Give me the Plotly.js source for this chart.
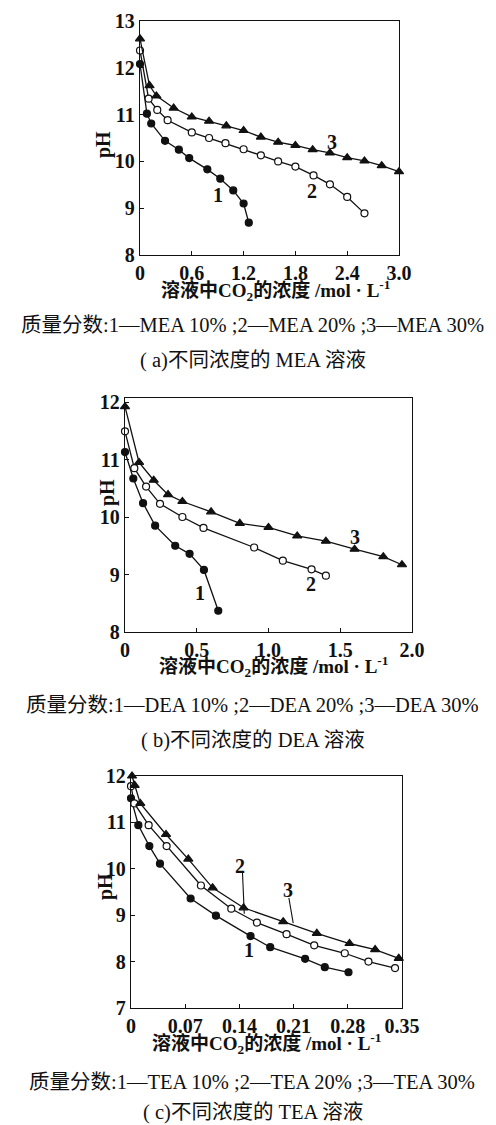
<!DOCTYPE html>
<html>
<head>
<meta charset="utf-8">
<script src="https://cdn.plot.ly/plotly-3.0.1.min.js"></script>
<style>html,body{margin:0;padding:0;background:#fff;}#chart{width:496px;height:1125px;}</style>
</head>
<body>
<div id="chart"></div>
<script>
// ---------- (a) MEA ----------
const mea_x1 = [0, 0.08, 0.13, 0.29, 0.45, 0.57, 0.78, 0.93, 1.08, 1.20, 1.26];
const mea_y1 = [12.08, 11.02, 10.81, 10.44, 10.25, 10.07, 9.83, 9.63, 9.38, 9.10, 8.69];
const mea_x2 = [0, 0.10, 0.20, 0.32, 0.60, 0.80, 0.99, 1.20, 1.40, 1.60, 1.80, 2.01, 2.20, 2.40, 2.60];
const mea_y2 = [12.37, 11.34, 11.10, 10.88, 10.62, 10.50, 10.39, 10.26, 10.13, 10.00, 9.89, 9.70, 9.51, 9.24, 8.89];
const mea_x3 = [0, 0.11, 0.19, 0.39, 0.60, 0.80, 1.00, 1.20, 1.40, 1.60, 1.80, 2.00, 2.20, 2.40, 2.60, 2.80, 3.00];
const mea_y3 = [12.62, 11.62, 11.40, 11.14, 10.95, 10.86, 10.76, 10.66, 10.52, 10.41, 10.34, 10.25, 10.18, 10.08, 10.01, 9.91, 9.78];
const mea_xticks = [0, 0.6, 1.2, 1.8, 2.4, 3.0];
const mea_xticktext = ['0', '0.6', '1.2', '1.8', '2.4', '3.0'];
const mea_yticks = [8, 9, 10, 11, 12, 13];
const mea_labels = {text: ['1', '2', '3'], x: [0.90, 1.99, 2.22], y: [9.28, 9.37, 10.42]};

// ---------- (b) DEA ----------
const dea_x1 = [0, 0.058, 0.126, 0.21, 0.35, 0.45, 0.55, 0.65];
const dea_y1 = [11.13, 10.67, 10.24, 9.85, 9.50, 9.36, 9.08, 8.37];
const dea_x2 = [0, 0.065, 0.147, 0.244, 0.40, 0.547, 0.90, 1.10, 1.30, 1.40];
const dea_y2 = [11.49, 10.85, 10.53, 10.23, 10.00, 9.81, 9.47, 9.24, 9.09, 8.98];
const dea_x3 = [0, 0.098, 0.20, 0.30, 0.40, 0.60, 0.80, 1.00, 1.20, 1.40, 1.60, 1.80, 1.93];
const dea_y3 = [11.92, 10.95, 10.64, 10.39, 10.27, 10.09, 9.89, 9.82, 9.67, 9.58, 9.44, 9.31, 9.17];
const dea_xticks = [0, 0.5, 1.0, 1.5, 2.0];
const dea_xticktext = ['0', '0.5', '1.0', '1.5', '2.0'];
const dea_yticks = [8, 9, 10, 11, 12];
const dea_labels = {text: ['1', '2', '3'], x: [0.52, 1.295, 1.60], y: [8.67, 8.84, 9.66]};

// ---------- (c) TEA ----------
const tea_x1 = [0, 0.0095, 0.0237, 0.0374, 0.077, 0.1097, 0.1544, 0.1798, 0.2249, 0.2503, 0.2809];
const tea_y1 = [11.52, 10.94, 10.49, 10.11, 9.36, 8.99, 8.55, 8.31, 8.06, 7.88, 7.77];
const tea_x2 = [0, 0.0043, 0.0228, 0.046, 0.0903, 0.1295, 0.1626, 0.2009, 0.2366, 0.2761, 0.3067, 0.341];
const tea_y2 = [11.78, 11.41, 10.94, 10.49, 9.64, 9.14, 8.84, 8.59, 8.35, 8.18, 8.00, 7.86];
const tea_x3 = [0.0013, 0.0047, 0.012, 0.0452, 0.074, 0.1054, 0.1454, 0.1966, 0.240, 0.2822, 0.3153, 0.3458];
const tea_y3 = [12.00, 11.80, 11.41, 10.74, 10.21, 9.59, 9.16, 8.86, 8.61, 8.39, 8.26, 8.07];
const tea_xticks = [0, 0.07, 0.14, 0.21, 0.28, 0.35];
const tea_xticktext = ['0', '0.07', '0.14', '0.21', '0.28', '0.35'];
const tea_yticks = [7, 8, 9, 10, 11, 12];
const tea_labels = {text: ['1', '2', '3'], x: [0.152, 0.1406, 0.203], y: [8.24, 10.06, 9.55]};
const tea_leaders = {x0: [0.144, 0.2039], y0: [9.91, 9.37], x1: [0.1463, 0.2095], y1: [9.03, 8.83]};

const captions = [
  ['质量分数:1—MEA 10% ;2—MEA 20% ;3—MEA 30%', '( a)不同浓度的 MEA 溶液'],
  ['质量分数:1—DEA 10% ;2—DEA 20% ;3—DEA 30%', '( b)不同浓度的 DEA 溶液'],
  ['质量分数:1—TEA 10% ;2—TEA 20% ;3—TEA 30%', '( c)不同浓度的 TEA 溶液']
];
const xTitle = '溶液中CO<sub>2</sub>的浓度 /mol · L<sup>-1</sup>';

// ---------- layout helpers (pixel -> paper) ----------
const W = 496, H = 1125;
const px = v => v / W;
const py = v => 1 - v / H;
const FONT = '"Liberation Serif", "Noto Sans CJK SC", serif';
const bold = a => a.map(v => '<b>' + v + '</b>');

function series(x, y, sym, fill, xa, ya) {
  return {
    x: x, y: y, xaxis: xa, yaxis: ya, type: 'scatter', mode: 'lines+markers',
    line: {color: '#111', width: 1.3},
    marker: {symbol: sym, size: sym === 'triangle-up' ? 8 : 7, color: fill, line: {color: '#111', width: 1.2}},
    cliponaxis: false, hoverinfo: 'skip'
  };
}

const traces = [
  series(mea_x1, mea_y1, 'circle', '#111', 'x', 'y'),
  series(mea_x2, mea_y2, 'circle', '#fff', 'x', 'y'),
  series(mea_x3, mea_y3, 'triangle-up', '#111', 'x', 'y'),
  series(dea_x1, dea_y1, 'circle', '#111', 'x2', 'y2'),
  series(dea_x2, dea_y2, 'circle', '#fff', 'x2', 'y2'),
  series(dea_x3, dea_y3, 'triangle-up', '#111', 'x2', 'y2'),
  series(tea_x1, tea_y1, 'circle', '#111', 'x3', 'y3'),
  series(tea_x2, tea_y2, 'circle', '#fff', 'x3', 'y3'),
  series(tea_x3, tea_y3, 'triangle-up', '#111', 'x3', 'y3')
];

const TICKFONT = {family: FONT, size: 20, color: '#111'};
function axis(dom, range, tv, tt, anchor) {
  return {
    domain: dom, range: range, anchor: anchor, tickvals: tv, ticktext: bold(tt),
    showline: true, mirror: true, linecolor: '#111', linewidth: 1.3,
    ticks: 'inside', ticklen: 4, tickcolor: '#111', showgrid: false, zeroline: false,
    tickfont: TICKFONT, ticklabelstandoff: 0
  };
}

const annotations = [];
function txt(text, x, y, size, isBold, extra) {
  annotations.push(Object.assign({
    text: isBold ? '<b>' + text + '</b>' : text, x: px(x), y: py(y), xref: 'paper', yref: 'paper',
    showarrow: false, xanchor: 'center', yanchor: 'middle',
    font: {family: FONT, size: size, color: '#111'}
  }, extra || {}));
}
// axis titles
txt(xTitle, 275, 290, 19, true);
txt(xTitle, 273, 666, 19, true);
txt(xTitle, 266, 1043, 19, true);
txt('pH', 104, 145, 20, true, {textangle: -90});
txt('pH', 107, 493, 20, true, {textangle: -90});
txt('pH', 106, 887, 20, true, {textangle: -90});
// captions
const capY = [[325, 360], [705, 740], [1082, 1112]];
captions.forEach((c, i) => {
  txt(c[0], 252, capY[i][0], 20.5, false);
  txt(c[1], 253, capY[i][1], 20.5, false);
});
// curve labels
function curveLabels(lab, xa, ya) {
  lab.text.forEach((t, i) => {
    annotations.push({text: '<b>' + t + '</b>', x: lab.x[i], y: lab.y[i], xref: xa, yref: ya,
      showarrow: false, font: {family: FONT, size: 20, color: '#111'}});
  });
}
curveLabels(mea_labels, 'x', 'y');
curveLabels(dea_labels, 'x2', 'y2');
curveLabels(tea_labels, 'x3', 'y3');

const shapes = tea_leaders.x0.map((v, i) => ({
  type: 'line', xref: 'x3', yref: 'y3', x0: v, y0: tea_leaders.y0[i],
  x1: tea_leaders.x1[i], y1: tea_leaders.y1[i], line: {color: '#111', width: 1.1}
}));

const layout = {
  width: W, height: H, margin: {l: 0, r: 0, t: 0, b: 0},
  paper_bgcolor: '#fff', plot_bgcolor: '#fff', showlegend: false,
  xaxis: axis([px(140), px(399)], [0, 3.0], mea_xticks, mea_xticktext, 'y'),
  yaxis: axis([py(255), py(21)], [8, 13], mea_yticks, mea_yticks, 'x'),
  xaxis2: axis([px(125), px(412)], [0, 2.0], dea_xticks, dea_xticktext, 'y2'),
  yaxis2: axis([py(632), py(398)], [8, 12.07], dea_yticks, dea_yticks, 'x2'),
  xaxis3: axis([px(131), px(402)], [0, 0.35], tea_xticks, tea_xticktext, 'y3'),
  yaxis3: axis([py(1008), py(776)], [7, 12], tea_yticks, tea_yticks, 'x3'),
  annotations: annotations, shapes: shapes
};

Plotly.newPlot('chart', traces, layout, {staticPlot: true, displayModeBar: false});
</script>
</body>
</html>
